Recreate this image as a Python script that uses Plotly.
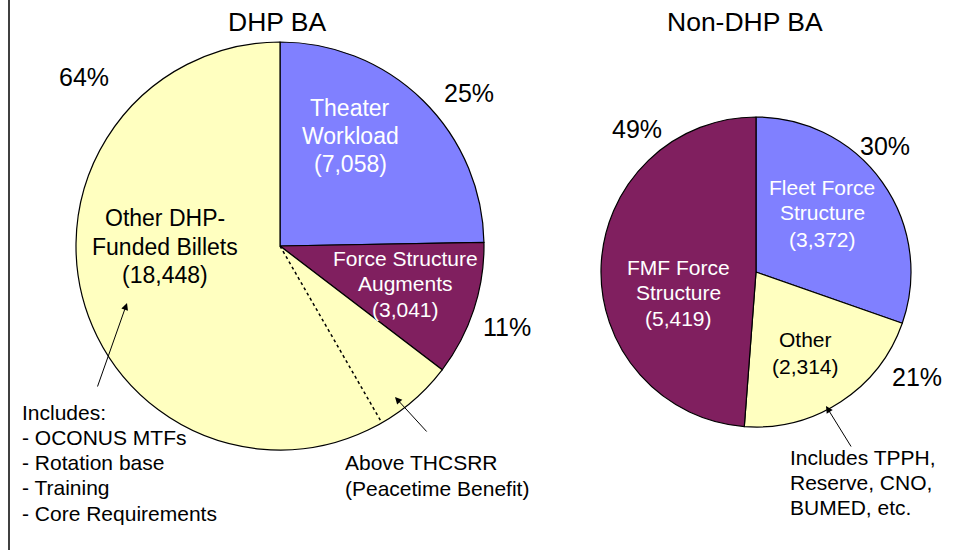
import plotly.graph_objects as go
import math

W, H = 964, 550
FONT = "Liberation Sans, Arial, sans-serif"

# ---------------- data ----------------
dhp_labels = ["Theater Workload", "Force Structure Augments", "Other DHP-Funded Billets"]
dhp_lines = [["Theater", "Workload"], ["Force Structure", "Augments"], ["Other DHP-", "Funded Billets"]]
dhp_values = [7058, 3041, 18448]
dhp_pct = ["25%", "11%", "64%"]
dhp_above_thcsrr = 1800  # estimated share of "Other" marked by the dotted line

non_labels = ["Fleet Force Structure", "Other", "FMF Force Structure"]
non_lines = [["Fleet Force", "Structure"], ["Other"], ["FMF Force", "Structure"]]
non_values = [3372, 2314, 5419]
non_pct = ["30%", "21%", "49%"]

note_dhp = ["Includes:", "- OCONUS MTFs", "- Rotation base", "- Training", "- Core Requirements"]
note_thcsrr = ["Above THCSRR", "(Peacetime Benefit)"]
note_non = ["Includes TPPH,", "Reserve, CNO,", "BUMED, etc."]

colors = {"blue": "#8080FF", "maroon": "#801F5F", "yellow": "#FFFFC0"}
dhp_colors = [colors["blue"], colors["maroon"], colors["yellow"]]
non_colors = [colors["blue"], colors["yellow"], colors["maroon"]]
dhp_text_colors = ["white", "white", "black"]
non_text_colors = ["white", "black", "white"]


def px(x):
    return x / W


def py(y):
    return 1 - y / H


def domain(cx, cy, r):
    return dict(x=[px(cx - r), px(cx + r)], y=[py(cy + r), py(cy - r)])


# pie geometry (pixels)
L_CX, L_CY, L_R = 280, 246, 204
R_CX, R_CY, R_R = 756, 272, 155

fig = go.Figure()
fig.add_trace(go.Pie(
    labels=dhp_labels, values=dhp_values, sort=False, direction="clockwise", rotation=0,
    marker=dict(colors=dhp_colors, line=dict(color="black", width=1.2)),
    textinfo="none", hoverinfo="label+value+percent", showlegend=False,
    domain=domain(L_CX, L_CY, L_R),
))
fig.add_trace(go.Pie(
    labels=non_labels, values=non_values, sort=False, direction="clockwise", rotation=0,
    marker=dict(colors=non_colors, line=dict(color="black", width=1.2)),
    textinfo="none", hoverinfo="label+value+percent", showlegend=False,
    domain=domain(R_CX, R_CY, R_R),
))

ann = []


def text(x, y, t, size, color="black", xanchor="center"):
    ann.append(dict(x=px(x), y=py(y), xref="paper", yref="paper", text=t, showarrow=False,
                    xanchor=xanchor, yanchor="middle", align="left" if xanchor == "left" else "center",
                    borderpad=0, font=dict(family=FONT, size=size, color=color)))


def block(x, y_first, lines, spacing, size, color="black", xanchor="center"):
    for i, t in enumerate(lines):
        text(x, y_first + i * spacing, t, size, color, xanchor)


def arrow(tail, tip):
    ann.append(dict(x=px(tip[0]), y=py(tip[1]), xref="paper", yref="paper", text="",
                    showarrow=True, ax=tail[0] - tip[0], ay=tail[1] - tip[1],
                    arrowhead=2, arrowsize=1.4, arrowwidth=1, arrowcolor="black"))


# titles
text(277, 22, "DHP BA", 26.5)
text(745, 22, "Non-DHP BA", 26.5)

# DHP slice labels: (x, first line y, spacing, size)
dhp_label_pos = [(350, 108, 28, 23), (405, 258, 25.5, 21), (165, 218, 28.5, 23)]
for t, v, (x, y, sp, s), c in zip(dhp_lines, dhp_values, dhp_label_pos, dhp_text_colors):
    block(x, y, t + [f"({v:,})"], sp, s, c)
for t, (x, y) in zip(dhp_pct, [(469, 93), (507, 327), (84, 77)]):
    text(x, y, t, 25)

# Non-DHP slice labels
non_label_pos = [(822, 187, 26, 21), (805, 339, 27, 21), (678, 267, 25.5, 21)]
for t, v, (x, y, sp, s), c in zip(non_lines, non_values, non_label_pos, non_text_colors):
    block(x, y, t + [f"({v:,})"], sp, s, c)
for t, (x, y) in zip(non_pct, [(885, 146), (917, 377), (637, 129)]):
    text(x, y, t, 25)

# notes
block(21, 412, note_dhp, 25.3, 21, xanchor="left")
block(344, 462, note_thcsrr, 26, 21, xanchor="left")
block(789, 457, note_non, 25, 21, xanchor="left")

arrow((97, 388), (127, 303))
arrow((428, 433), (395, 397))
arrow((852, 448), (826, 406))

# dotted boundary of the "Above THCSRR" share inside the yellow slice
frac = (dhp_values[0] + dhp_values[1] + dhp_above_thcsrr) / sum(dhp_values)
ang = 2 * math.pi * frac
ex = L_CX + L_R * math.sin(ang)
ey = L_CY - L_R * math.cos(ang)
shapes = [
    dict(type="line", xref="paper", yref="paper", x0=px(L_CX), y0=py(L_CY), x1=px(ex), y1=py(ey),
         line=dict(color="black", width=1.5, dash="dot")),
    dict(type="line", xref="paper", yref="paper", x0=px(9), y0=0, x1=px(9), y1=1,
         line=dict(color="black", width=1.5)),
]

fig.update_layout(
    width=W, height=H, margin=dict(l=0, r=0, t=0, b=0),
    paper_bgcolor="white", plot_bgcolor="white",
    annotations=ann, shapes=shapes, font=dict(family=FONT),
)
fig.write_html("out.html", config={"displayModeBar": False},
               post_script="document.body.style.margin='0';")
